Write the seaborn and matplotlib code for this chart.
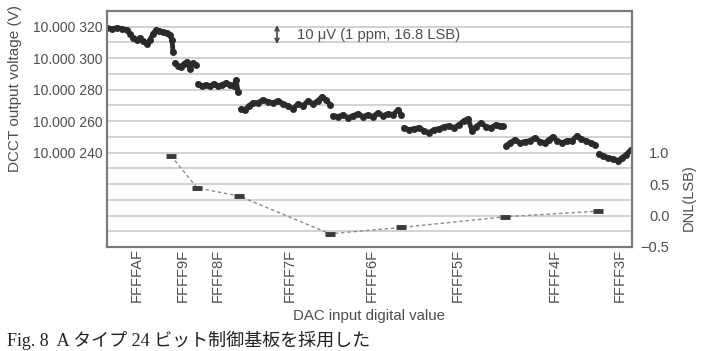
import numpy as np
import pandas as pd
import matplotlib
matplotlib.use("Agg")
import matplotlib.pyplot as plt
import seaborn as sns

# voltage trace: sample index, output in uV above 10 V, DAC step it belongs to
seg_x = [
    [0, 5, 10, 15, 20, 23, 26, 30, 33, 36, 40, 43, 46, 49, 52, 56, 60, 63, 65, 66],
    [68, 71, 74, 77, 80, 83, 86, 89],
    [91, 95, 99, 103, 107, 111, 115, 119, 123, 127, 129, 131],
    [134, 138, 142, 146, 151, 156, 161, 166, 171, 176, 181, 186, 191, 196, 201, 206, 211, 215, 219, 223],
    [226, 231, 236, 241, 246, 251, 256, 261, 266, 271, 276, 281, 286, 291, 294],
    [297, 302, 307, 312, 317, 322, 327, 332, 337, 342, 347, 352, 357, 361, 365, 369, 374, 379, 384, 389, 393, 396],
    [399, 403, 408, 413, 418, 423, 428, 433, 438, 442, 446, 450, 455, 460, 465, 470, 474, 479, 484, 488],
    [492, 496, 501, 506, 511, 515, 519, 524],
]
seg_uv = [
    [319.4, 318.7, 319.4, 318.7, 318.1, 315.6, 313.0, 311.7, 313.0, 311.1, 309.2, 311.7, 315.6, 318.1, 317.5, 316.8, 316.2, 314.9, 311.7, 304.1],
    [297.1, 295.2, 294.6, 296.5, 297.8, 293.3, 297.1, 295.9],
    [283.8, 282.5, 283.2, 282.5, 283.8, 282.5, 283.2, 284.4, 283.2, 282.5, 286.3, 278.7],
    [267.9, 267.3, 269.8, 271.7, 271.7, 273.7, 272.4, 271.7, 273.0, 271.1, 269.8, 267.9, 271.1, 269.8, 273.0, 271.1, 273.0, 275.6, 273.7, 270.5],
    [263.5, 262.9, 264.1, 262.2, 263.5, 264.8, 262.9, 264.1, 262.9, 265.4, 263.5, 264.8, 264.1, 267.3, 264.1],
    [255.9, 254.6, 255.2, 255.9, 254.0, 252.7, 254.6, 255.2, 256.5, 257.1, 255.9, 257.8, 260.3, 261.6, 254.0, 256.5, 259.0, 256.5, 255.9, 257.8, 257.1, 257.1],
    [244.4, 246.3, 248.3, 246.3, 247.0, 247.6, 249.5, 247.0, 246.3, 248.3, 250.2, 247.6, 246.3, 247.6, 247.6, 250.8, 248.9, 247.6, 246.3, 245.1],
    [239.4, 238.1, 236.8, 236.2, 234.9, 236.8, 238.7, 241.9],
]

# DNL at each step
dnl_x = [64, 90, 132, 223, 294, 398, 491]
dnl_lsb = [0.95, 0.44, 0.31, -0.29, -0.19, -0.02, 0.07]

dac_tick_x = [30, 76, 111, 183, 265, 351, 448, 513]
dac_tick_labels = ["FFFFAF", "FFFF9F", "FFFF8F", "FFFF7F", "FFFF6F", "FFFF5F", "FFFF4F", "FFFF3F"]

volt_ticks = [240, 260, 280, 300, 320]
dnl_ticks = [-0.5, 0.0, 0.5, 1.0]

rows = []
for i, (xs, vs) in enumerate(zip(seg_x, seg_uv)):
    for x, v in zip(xs, vs):
        rows.append((x, v, i))
df = pd.DataFrame(rows, columns=["sample", "uv", "step"])
dnl = pd.DataFrame({"sample": dnl_x, "dnl": dnl_lsb})

sns.set_style("white")
plt.rcParams["font.family"] = ["Liberation Sans", "DejaVu Sans"]
txt = "#4d4d4d"

fig = plt.figure(figsize=(7.01, 3.51), dpi=100)
ax = fig.add_axes([107 / 701, 1 - 247 / 351, 525 / 701, 236 / 351])

sns.lineplot(data=df, x="sample", y="uv", units="step", estimator=None,
             color="#2a2a2a", lw=3.5, marker="o", markersize=5, mec="none", ax=ax)

ax.set_xlim(0, 525)
ax.set_ylim(180, 330)
ax.set_yticks(np.arange(180, 331, 10))
ax.set_yticklabels(["10.000 %d" % t if t in volt_ticks else "" for t in range(180, 331, 10)],
                   fontsize=10, color=txt)
ax.grid(axis="y", color="#cfcfcf", lw=1.3)
ax.set_xticks(dac_tick_x)
ax.set_xticklabels(dac_tick_labels, rotation=90, fontsize=10.5, color=txt)
ax.tick_params(axis="y", length=0, pad=3)
ax.tick_params(axis="x", length=0, pad=1)
ax.set_xlabel("DAC input digital value", fontsize=10.8, color=txt)
ax.xaxis.set_label_coords(0.5, -0.262)
ax.set_ylabel("DCCT output voltage (V)", fontsize=11, color=txt)
ax.yaxis.set_label_coords(-0.162, 0.672)

ax2 = ax.twinx()
sns.lineplot(data=dnl, x="sample", y="dnl", color="#8a8a8a", lw=1, ls=(0, (2.5, 2)),
             ax=ax2)
sns.scatterplot(data=dnl, x="sample", y="dnl", marker="_", s=60, linewidth=3.5,
                color="#3a3a3a", ax=ax2, zorder=5)
ax2.set_ylim(-0.5, 3.25)
ax2.set_yticks(dnl_ticks)
ax2.set_yticklabels(["\u22120.5", "0.0", "0.5", "1.0"], fontsize=10.5, color=txt)
for lab in ax2.get_yticklabels():
    lab.set_horizontalalignment("right")
ax2.tick_params(length=0, pad=27)
ax2.set_ylabel("DNL(LSB)", fontsize=10.5, color=txt)
ax2.yaxis.set_label_coords(1.095, 0.21)
ax2.grid(False)

for a in (ax, ax2):
    for sp in a.spines.values():
        sp.set_color("#7a7a7a")
        sp.set_linewidth(1.5)

ax.annotate("", xy=(170, 321), xytext=(170, 309),
            arrowprops=dict(arrowstyle="<->", color="#444", lw=1.2, mutation_scale=7,
                            shrinkA=0, shrinkB=0))
ax.text(190, 315, "10 \u03bcV (1 ppm, 16.8 LSB)", fontsize=10.6, color=txt, va="center")

fig.text(7 / 701, 1 / 351, "Fig. 8  A タイプ 24 ビット制御基板を採用した",
         fontsize=13, va="bottom", color="#222",
         family=["Liberation Serif", "Noto Sans CJK JP"])

fig.savefig("out.png", dpi=100)
